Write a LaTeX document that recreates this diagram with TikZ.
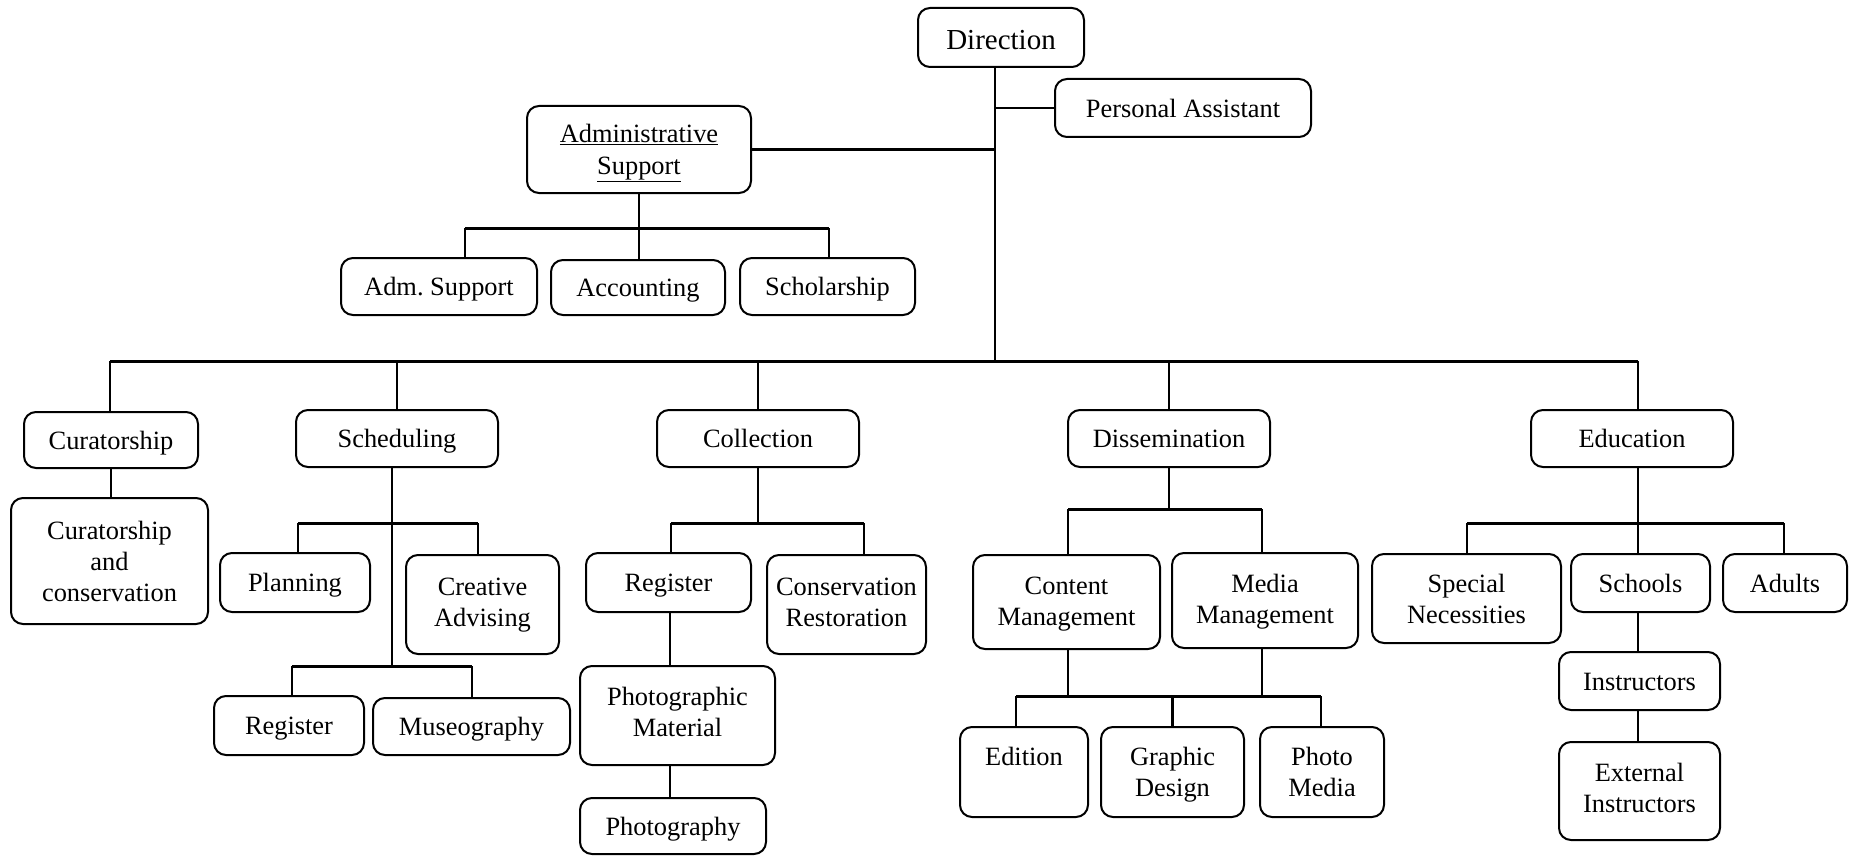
\documentclass[tikz,border=0pt]{standalone}
\usepackage{fontspec}
\setmainfont{Liberation Serif}
\tikzset{
  orgbox/.style={draw, line width=2pt, rounded corners=12pt, inner sep=0pt,
    align=center, font=\fontsize{26.4}{31}\selectfont},
  conn/.style={line width=2.2pt},
  busline/.style={line width=3pt},
}
% box: [extra text drop], name, left, top, right, bottom, text (y runs down)
\newcommand\orgnode[7][0]{%
  \pgfmathsetlengthmacro\orgraise{-(2.8+#1)*1pt}%
  \node[orgbox, minimum width={(#5-#3)*1pt}, minimum height={(#6-#4)*1pt}]
    (#2) at ({(#3+#5)/2},{(#4+#6)/2})
    {\raisebox{\orgraise}[\height][\depth]{\begin{tabular}{@{}c@{}}#7\end{tabular}}};}
\begin{document}
\begin{tikzpicture}[x=1pt, y=-1pt]
\useasboundingbox (0,0) rectangle (1852,856);

% top level
\orgnode[3]{dir}{918}{8}{1084}{67}{\fontsize{29}{33}\selectfont Direction}
\orgnode{pa}{1055}{79}{1311}{137}{Personal Assistant}
\orgnode{adm}{527}{106}{751}{193}{\underline{Administrative}\\\underline{Support}}
\orgnode{ads}{341}{258}{537}{315}{Adm.\ Support}
\orgnode{acc}{551}{260}{725}{315}{Accounting}
\orgnode{sch}{740}{258}{915}{315}{Scholarship}

% departments
\orgnode{cur}{24}{412}{198}{468}{Curatorship}
\orgnode{sched}{296}{410}{498}{467}{Scheduling}
\orgnode{col}{657}{410}{859}{467}{Collection}
\orgnode{dis}{1068}{410}{1270}{467}{Dissemination}
\orgnode{edu}{1531}{410}{1733}{467}{Education}

% curatorship
\orgnode{cc}{11}{498}{208}{624}{Curatorship\\and\\conservation}

% scheduling
\orgnode{plan}{220}{553}{370}{612}{Planning}
\orgnode[-2.8]{crea}{406}{555}{559}{654}{Creative\\Advising}
\orgnode{sreg}{214}{696}{364}{755}{Register}
\orgnode{mus}{373}{698}{570}{755}{Museography}

% collection
\orgnode{creg}{586}{553}{751}{612}{Register}
\orgnode[-2.4]{cons}{767}{555}{926}{654}{Conservation\\Restoration}
\orgnode[-3.5]{phm}{580}{666}{775}{765}{Photographic\\Material}
\orgnode{pho}{580}{798}{766}{854}{Photography}

% dissemination
\orgnode[-0.8]{cm}{973}{555}{1160}{649}{Content\\Management}
\orgnode[-1.7]{mm}{1172}{553}{1358}{648}{Media\\Management}
\orgnode{edi}{960}{727}{1088}{817}{Edition\\\mbox{}}
\orgnode{gd}{1101}{727}{1244}{817}{Graphic\\Design}
\orgnode{pmed}{1260}{727}{1384}{817}{Photo\\Media}

% education
\orgnode{spn}{1372}{554}{1561}{643}{Special\\Necessities}
\orgnode{scl}{1571}{554}{1710}{612}{Schools}
\orgnode{adu}{1723}{554}{1847}{612}{Adults}
\orgnode{ins}{1559}{652}{1720}{710}{Instructors}
\orgnode[-3.5]{ext}{1559}{742}{1720}{840}{External\\Instructors}

% junction points
\coordinate (tr) at (995,361);
\coordinate (mbL) at (110,361);
\coordinate (mbR) at (1638,361);
\coordinate (abL) at (465,228);
\coordinate (abR) at (829,228);
\coordinate (sv) at (392,523);
\coordinate (s1L) at (298,523);
\coordinate (s1R) at (478,523);
\coordinate (s2L) at (292,666);
\coordinate (s2R) at (472,666);
\coordinate (cbL) at (671,523);
\coordinate (cbR) at (864,523);
\coordinate (cv) at (670,700);
\coordinate (dbL) at (1068,509);
\coordinate (dbR) at (1262,509);
\coordinate (elL) at (1016,696);
\coordinate (elR) at (1321,696);
\coordinate (ebL) at (1467,523);
\coordinate (ebR) at (1784,523);

% direction trunk and side branches
\draw[conn] (tr |- dir.south) -- (tr);
\draw[conn] (tr |- pa.west) -- (pa.west);
\draw[conn] (adm.east) -- (tr |- adm.east);

% administrative support
\draw[conn] (adm.south) -- (adm.south |- acc.north);
\draw[busline] (abL) -- (abR);
\draw[conn] (abL) -- (abL |- ads.north);
\draw[conn] (abR) -- (abR |- sch.north);

% main bus
\draw[busline] (mbL) -- (mbR);
\draw[conn] (mbL) -- (mbL |- cur.north);
\draw[conn] (sched.north |- mbL) -- (sched.north);
\draw[conn] (col.north |- mbL) -- (col.north);
\draw[conn] (dis.north |- mbL) -- (dis.north);
\draw[conn] (mbR) -- (mbR |- edu.north);

% curatorship
\draw[conn] (cur.south) -- (cur.south |- cc.north);

% scheduling
\draw[conn] (sv |- sched.south) -- (sv |- s2L);
\draw[busline] (s1L) -- (s1R);
\draw[conn] (s1L) -- (s1L |- plan.north);
\draw[conn] (s1R) -- (s1R |- crea.north);
\draw[busline] (s2L) -- (s2R);
\draw[conn] (s2L) -- (s2L |- sreg.north);
\draw[conn] (s2R) -- (s2R |- mus.north);

% collection
\draw[conn] (col.south) -- (col.south |- cbL);
\draw[busline] (cbL) -- (cbR);
\draw[conn] (cbL) -- (cbL |- creg.north);
\draw[conn] (cbR) -- (cbR |- cons.north);
\draw[conn] (cv |- creg.south) -- (cv |- phm.north);
\draw[conn] (cv |- phm.south) -- (cv |- pho.north);

% dissemination
\draw[conn] (dis.south) -- (dis.south |- dbL);
\draw[busline] (dbL) -- (dbR);
\draw[conn] (dbL) -- (dbL |- cm.north);
\draw[conn] (dbR) -- (dbR |- mm.north);
\draw[conn] (dbL |- cm.south) -- (dbL |- elL);
\draw[conn] (dbR |- mm.south) -- (dbR |- elL);
\draw[busline] (elL) -- (elR);
\draw[conn] (elL) -- (elL |- edi.north);
\draw[conn] (gd.north |- elL) -- (gd.north);
\draw[conn] (elR) -- (elR |- pmed.north);

% education
\draw[conn] (mbR |- edu.south) -- (mbR |- ebL);
\draw[busline] (ebL) -- (ebR);
\draw[conn] (ebL) -- (ebL |- spn.north);
\draw[conn] (mbR |- ebL) -- (mbR |- scl.north);
\draw[conn] (ebR) -- (ebR |- adu.north);
\draw[conn] (mbR |- scl.south) -- (mbR |- ins.north);
\draw[conn] (mbR |- ins.south) -- (mbR |- ext.north);
\end{tikzpicture}
\end{document}
